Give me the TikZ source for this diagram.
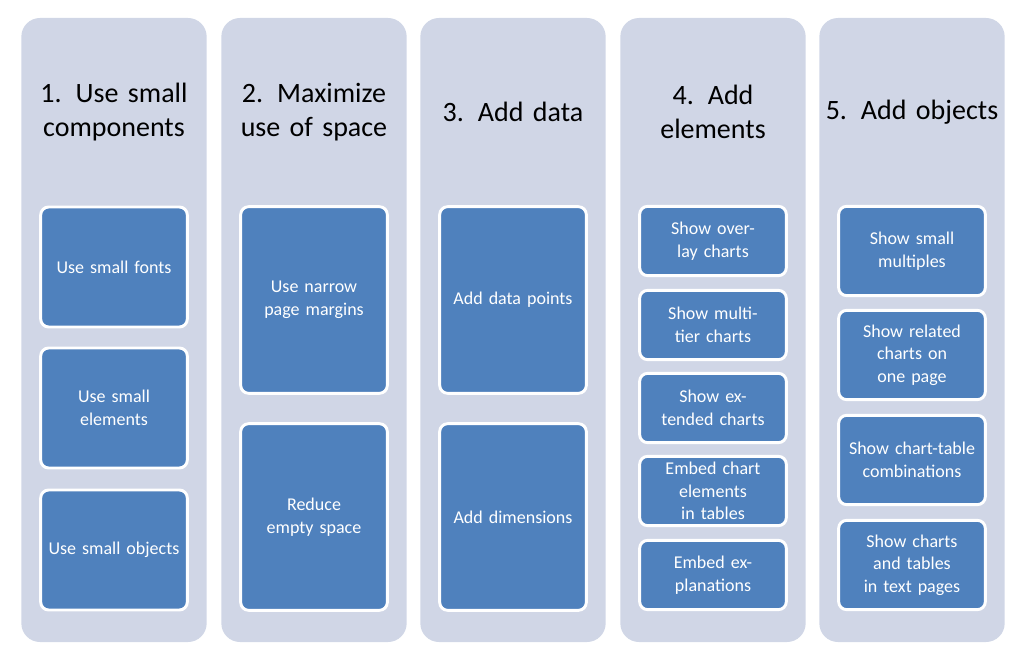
\documentclass[tikz,border=0pt]{standalone}
\usepackage{fontspec}
\setmainfont{Carlito}
\definecolor{panelgray}{HTML}{D0D6E6}
\definecolor{boxblue}{HTML}{4F81BD}
\begin{document}
\begin{tikzpicture}[x=0.75pt,y=-0.75pt]
  \tikzstyle{panel}=[rectangle,rounded corners=14pt,fill=panelgray,minimum width=139pt,minimum height=468pt,inner sep=0pt]
  \tikzstyle{title}=[align=center,font=\fontsize{21}{25}\selectfont,text width=135pt]
  \tikzstyle{item}=[rectangle,rounded corners=6pt,fill=boxblue,draw=white,line width=2.2pt,minimum width=110pt,text width=100pt,align=center,text=white,font=\fontsize{13.5}{17}\selectfont,inner sep=1pt]
  \useasboundingbox (0,0) rectangle (1025,656);

  % columns
  \foreach \cx/\nm in {114/a,314/b,513/c,713/d,912/e}
    \node [panel] (\nm) at (\cx,330) {};

  \node [title] (ta) at (114,112) {1. Use small components};
  \node [title] (tb) at (314,112) {2. Maximize use of space};
  \node [title] (tc) at (513,112) {3. Add data};
  \node [title] (td) at (713,112) {4. Add elements};
  \node [title] (te) at (912,112) {5. Add objects};

  % column 1
  \node [item,minimum height=90pt] (a1) at (114,267) {Use small fonts};
  \node [item,minimum height=90pt] (a2) at (114,408) {Use small elements};
  \node [item,minimum height=90pt] (a3) at (114,550) {Use small objects};

  % column 2
  \node [item,minimum height=140pt] (b1) at (314,300) {Use narrow page margins};
  \node [item,minimum height=140pt] (b2) at (314,517) {Reduce empty space};

  % column 3
  \node [item,minimum height=140pt] (c1) at (513,300) {Add data points};
  \node [item,minimum height=140pt] (c2) at (513,517) {Add dimensions};

  % column 4
  \node [item,minimum height=52pt] (d1) at (713,241) {Show overlay charts};
  \node [item,minimum height=52pt] (d2) at (713,325) {Show multi-tier charts};
  \node [item,minimum height=52pt] (d3) at (713,408) {Show extended charts};
  \node [item,minimum height=52pt] (d4) at (713,491) {Embed chart elements in tables};
  \node [item,minimum height=52pt] (d5) at (713,575) {Embed explanations};

  % column 5
  \node [item,minimum height=67pt] (e1) at (912,251) {Show small multiples};
  \node [item,minimum height=67pt] (e2) at (912,355) {Show related charts on one page};
  \node [item,minimum height=67pt] (e3) at (912,460) {Show chart-table combinations};
  \node [item,minimum height=67pt] (e4) at (912,565) {Show charts and tables in text pages};
\end{tikzpicture}
\end{document}
